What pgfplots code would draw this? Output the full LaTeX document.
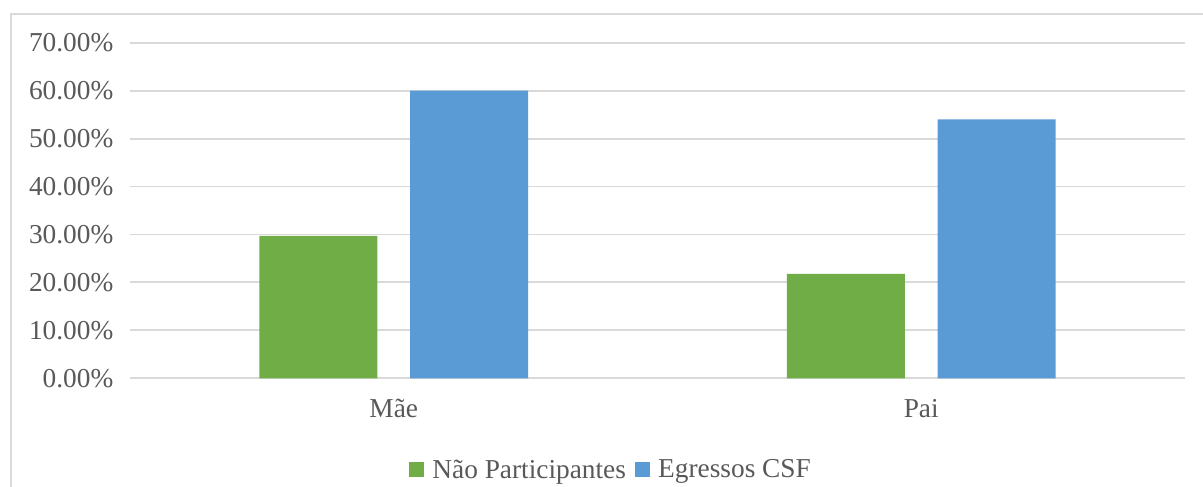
\documentclass[border=0pt]{standalone}
\usepackage{fontspec}
\setmainfont{Liberation Serif}
\usepackage{pgfplots}
\pgfplotsset{compat=1.18}

\definecolor{npgreen}{RGB}{112,173,71}
\definecolor{csfblue}{RGB}{91,155,213}
\definecolor{gridgray}{RGB}{217,217,217}
\definecolor{textgray}{RGB}{89,89,89}
\definecolor{framegray}{RGB}{217,217,217}

\begin{document}
\begin{tikzpicture}
  % page area and outer chart frame
  \clip (0,0) rectangle (902.25pt,-364.5pt);
  \useasboundingbox (0,0) rectangle (902.25pt,-364.5pt);
  \draw[framegray, line width=1.2pt] (8.4pt,-10.5pt) rectangle (915pt,-380pt);

  \begin{axis}[
    at={(97.5pt,-283.7pt)}, anchor=south west,
    scale only axis,
    width=791.25pt, height=251.7pt,
    ymin=0, ymax=70,
    xmin=-0.5, xmax=1.5,
    ytick={0,10,...,70},
    xtick={0,1},
    xticklabels={Mãe,Pai},
    axis line style={draw=none},
    ymajorgrids=true,
    grid style={gridgray, line width=1.4pt},
    major tick length=0pt,
    font=\fontsize{20.5}{24}\selectfont,
    tick label style={textgray},
    /pgf/number format/assume math mode=true,
    yticklabel={\pgfmathprintnumber[fixed,fixed zerofill,precision=2]{\tick}\%},
    yticklabel style={xshift=-9pt},
    xticklabel style={yshift=-12pt},
    ybar,
    bar width=88.5pt,
    legend columns=2,
    legend style={
      at={(0.4564,-0.273)}, anchor=center,
      draw=none, fill=none,
      text=textgray,
      font=\fontsize{20.5}{24}\selectfont,
      inner sep=0pt,
      /tikz/every even column/.append style={column sep=5pt},
      /tikz/every odd column/.append style={column sep=4pt},
    },
    legend image code/.code={%
      \fill[#1] (0pt,-5.6pt) rectangle (11.2pt,5.6pt);},
  ]
    \addplot[fill=npgreen, draw=none, bar shift=-56.6pt]
      coordinates {(0,29.7) (1,21.8)};
    \addlegendentry{Não Participantes}
    \addplot[fill=csfblue, draw=none, bar shift=56.6pt]
      coordinates {(0,60.0) (1,54.0)};
    \addlegendentry{Egressos CSF}
  \end{axis}
\end{tikzpicture}
\end{document}
